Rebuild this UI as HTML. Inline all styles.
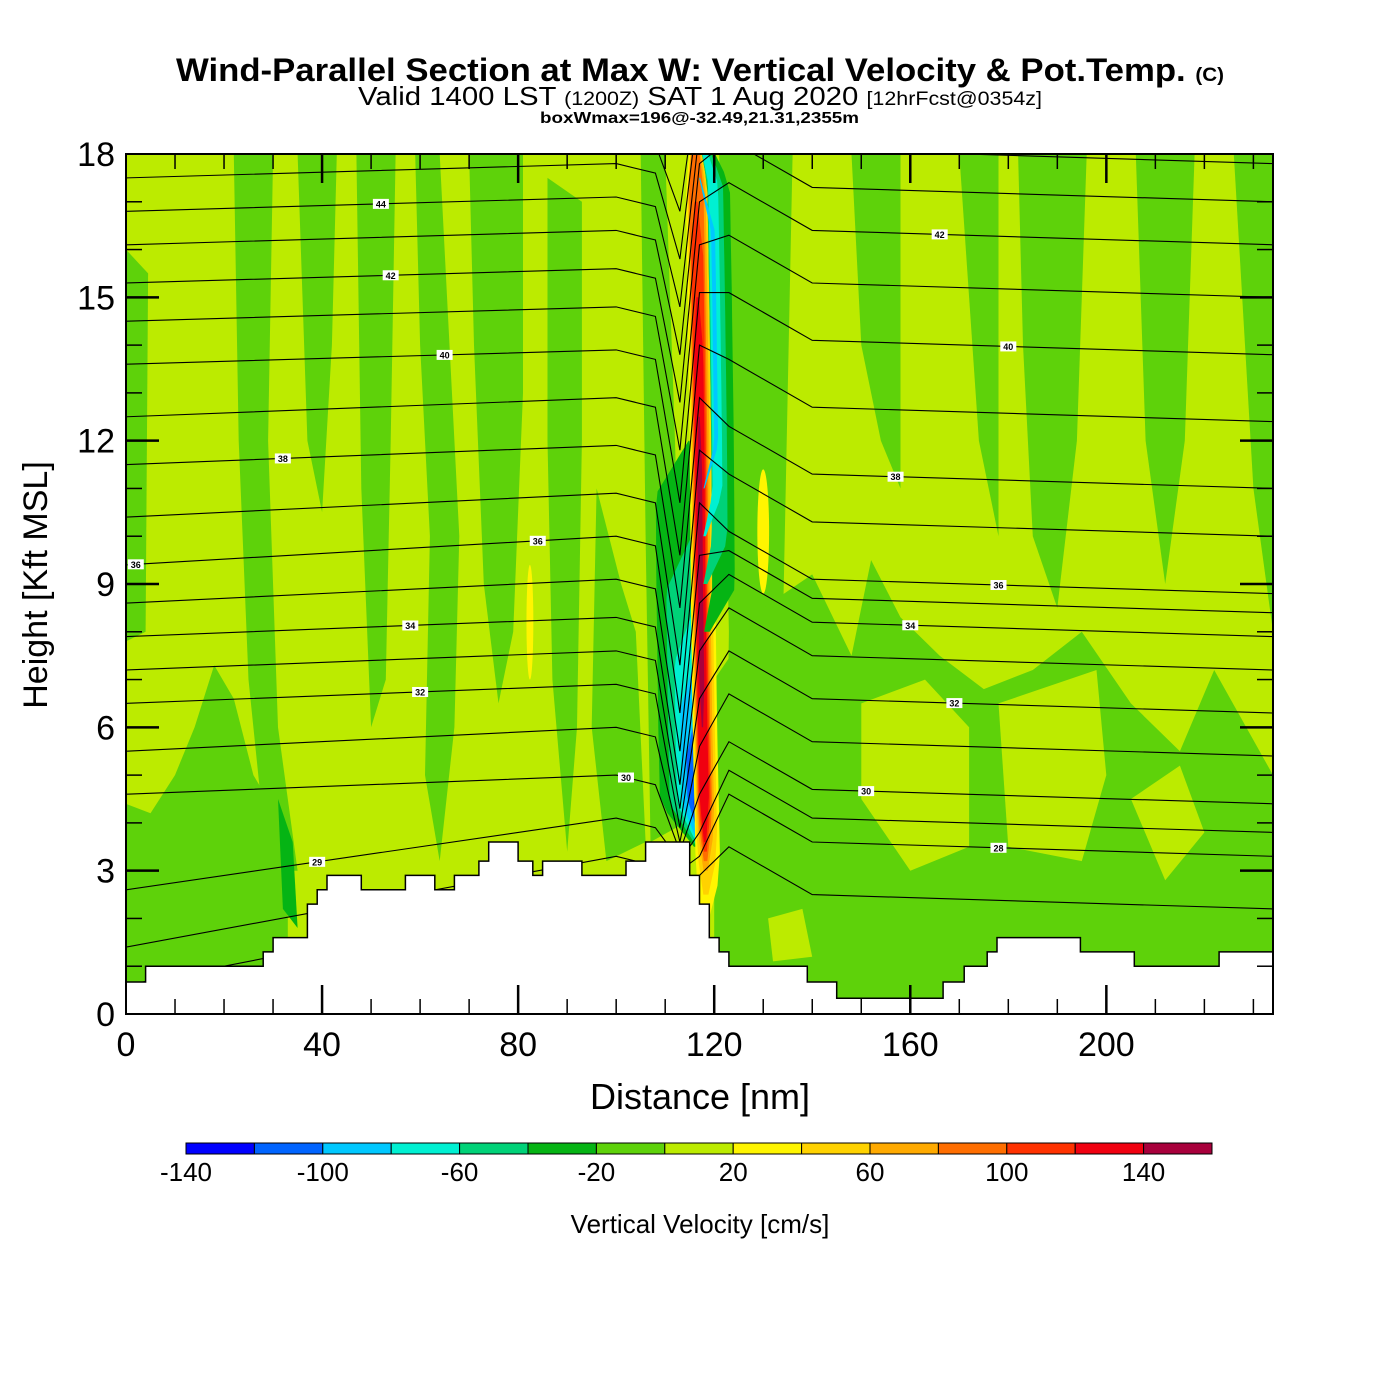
<!DOCTYPE html>
<html><head><meta charset="utf-8"><style>
body{margin:0;background:#fff;}
svg{display:block;font-family:"Liberation Sans",sans-serif;}
</style></head><body>
<svg id="chart" width="1400" height="1400" viewBox="0 0 1400 1400" xmlns="http://www.w3.org/2000/svg">
<text x="176" y="81" font-size="32" font-weight="bold" textLength="1048" lengthAdjust="spacingAndGlyphs">Wind-Parallel Section at Max W: Vertical Velocity &amp; Pot.Temp. <tspan font-size="19">(C)</tspan></text>
<text x="358" y="105" font-size="26" textLength="684" lengthAdjust="spacingAndGlyphs">Valid 1400 LST <tspan font-size="19">(1200Z)</tspan> SAT 1 Aug 2020 <tspan font-size="19">[12hrFcst@0354z]</tspan></text>
<text x="540" y="123" font-size="16" font-weight="bold" textLength="319" lengthAdjust="spacingAndGlyphs">boxWmax=196@-32.49,21.31,2355m</text>
<defs><clipPath id="plotclip"><rect x="126" y="154" width="1147" height="860"/></clipPath></defs>
<g id="plot" clip-path="url(#plotclip)"></g>
<g id="axes"></g>
<text x="700" y="1109" text-anchor="middle" font-size="36">Distance [nm]</text>
<text transform="translate(47,585) rotate(-90)" text-anchor="middle" font-size="34">Height [Kft MSL]</text>
<g id="cbar"></g>
<text x="700" y="1233" text-anchor="middle" font-size="26">Vertical Velocity [cm/s]</text>
</svg>
<script>
// ---- data ----
const terrX=[0,4,28,30,37,39,41,48,57,63,67,72,74,80,83,85,93,102,106,115,117,119,121,123,139,145,166.7,171,175.7,177.7,194.7,205.7,223];
const terrH=[0.67,1.0,1.3,1.6,2.3,2.6,2.9,2.6,2.9,2.6,2.9,3.2,3.6,3.2,2.9,3.2,2.9,3.2,3.6,2.9,2.3,1.6,1.3,1.0,0.67,0.33,0.67,1.0,1.3,1.6,1.3,1.0,1.3];
const levels=[27,28,29,30,31,32,33,34,35,36,37,38,39,40,41,42,43,44,45,46];
const hLeft=[0.6,1.4,2.6,4.6,5.5,6.5,7.2,7.9,8.6,9.4,10.4,11.5,12.5,13.6,14.5,15.3,16.1,16.8,17.5,18.1];
const hMid=[2.6,3.3,4.1,5.0,6.0,6.9,7.6,8.3,9.1,10.0,10.9,11.9,12.9,13.9,14.8,15.6,16.4,17.1,17.8,18.4];
const hDip=[2.8,3.0,3.2,3.4,3.6,3.9,4.3,4.8,5.5,6.3,7.3,8.5,9.6,10.7,11.8,12.8,13.8,14.8,15.8,16.8];
const hCore=[2.9,3.3,3.8,4.6,5.6,6.6,7.6,8.6,9.6,10.7,11.8,12.9,14.0,15.1,16.1,17.0,17.8,18.5,19.2,19.8];
const hRight=[2.2,3.3,3.8,4.4,5.4,6.3,7.2,7.9,8.4,8.8,10.0,11.0,12.4,13.8,15.0,16.1,17.0,17.8,18.5,19.2];
const labelLevels=[44,42,40,38,36,36,34,32,30,29,42,40,38,36,34,32,30,28];
const labelDist=[52,54,65,32,2,84,58,60,102,39,166,180,157,178,160,169,151,178];
const coreH=[3.2,6,9,12,15,18.5];
const coreX=[118.2,117.6,117.2,117.0,116.6,116.0];
const cbColors=["#0000ff","#0064ff","#00c8ff","#00f0d2","#00d278","#05b414","#5ed20a","#bceb00","#fff500","#ffd200","#ffaa00","#ff6e00","#ff3200","#f00010","#a8003c"];
const cbTicks=[-140,-100,-60,-20,20,60,100,140];
const xTicks=[0,40,80,120,160,200];
const yTicks=[0,3,6,9,12,15,18];
const greenRegions=[
 [[0,16],[4.5,15.5],[4,8],[0,7.8]],
 [[0,4.4],[5,4.2],[10,5],[14,6],[18,7.3],[22,6.6],[26,5],[30,4.3],[33,3.2],[33,0],[0,0]],
 [[22,18],[30,18],[29,12],[31,6],[35,3],[29,3],[25,7],[23,12]],
 [[35,18],[43,18],[42,14],[40,10.5],[37,12],[36,15]],
 [[47,18],[55,18],[54,12],[53,7],[50,6],[48,11]],
 [[59,18],[64,18],[66,14],[68,10],[67,6],[64,3.2],[61,5],[62,10],[60,14]],
 [[70,18],[81,18],[81,13],[79,8],[76,6.5],[73,9],[71,14]],
 [[86,17.5],[93,17],[93,12],[92,6],[90,3.4],[87,7],[86,12]],
 [[96,11],[101,9],[104,8],[106,3.6],[98,3.2],[95,6]],
 [[105,18],[110,18],[112,12],[114,4],[107,3.6],[106,10]],
 [[121,18],[136,18],[135,13],[134,8],[136,3],[140,0],[122,0],[123,8]],
 [[120,7],[130,8.5],[140,9.2],[148,7.5],[152,9.5],[158,8.3],[166,7.5],[175,6.8],[185,7.2],[195,8],[205,6.5],[215,5.5],[222,7.2],[234,5],[234,0],[120,0]],
 [[148,18],[158,18],[158,11],[154,12],[150,14]],
 [[170,18],[178,18],[178,10],[174,12]],
 [[182,18],[196,18],[194,12],[190,8.5],[185,10],[183,14]],
 [[206,18],[218,18],[216,12],[212,9],[208,12]],
 [[226,18],[234,18],[234,8],[230,11]]
];
const limeRegions=[
 [[150,6.5],[163,7],[172,6],[172,3.5],[160,3],[150,4.5]],
 [[178,6.5],[198,7.2],[200,5],[195,3.2],[180,3.5]],
 [[205,4.5],[215,5.2],[220,3.8],[212,2.8]],
 [[131,2],[138,2.2],[140,1.2],[132,1.1]]
];
const darkRegions=[[[31,4.5],[34,3.6],[35,1.8],[32,2.2]]];
const yellowBlobs=[[130,10.1,1.2,1.3],[82.4,8.2,0.7,1.2]];
// core layers: [color, offsetLeft, offsetRight, hBottom, hTop]
const coreLayers=[
 ["#05b414",-9,-0.5,3.5,12],["#00d278",-7,-0.8,3.5,10],["#00f0d2",-5.5,-1,3.5,8.5],["#00c8ff",-4.5,-1.2,3.5,7.5],["#0064ff",-3.4,-1.4,3.6,6.5],["#0000ff",-2.6,-1.7,3.7,5.3],
 ["#fff500",-2,3.0,2,18.5],["#ffd200",-1.7,2.5,2.5,18.5],["#ffaa00",-1.5,2.0,3,18.5],["#ff6e00",-1.3,1.6,3.2,18.5],["#ff3200",-1.1,1.3,3.4,17],["#f00010",-0.9,1.0,3.6,15],["#a8003c",-0.5,0.5,6,12.5],
 ["#05b414",2.4,7,8,18.5],["#00d278",2.4,5.6,9,18.5],["#00f0d2",2.6,4.6,10,18.5],["#00c8ff",3.0,3.8,11,17.5]
];
// ---- axis functions ----
const NS="http://www.w3.org/2000/svg";
const X0=126,X1=1273,Y0=1014,Y1=154,XMAX=234,YMAX=18;
const px=x=>X0+x*(X1-X0)/XMAX;
const py=h=>Y0-h*(Y0-Y1)/YMAX;
const plot=document.getElementById('plot'),axes=document.getElementById('axes'),cbar=document.getElementById('cbar');
function mk(tag,attrs,parent){const e=document.createElementNS(NS,tag);for(const k in attrs)e.setAttribute(k,attrs[k]);parent.appendChild(e);return e;}
function ptsStr(arr){return arr.map(p=>px(p[0]).toFixed(1)+','+py(p[1]).toFixed(1)).join(' ');}
function coreXat(h){if(h<=coreH[0])return coreX[0];for(let i=1;i<coreH.length;i++){if(h<=coreH[i]){const t=(h-coreH[i-1])/(coreH[i]-coreH[i-1]);return coreX[i-1]+t*(coreX[i]-coreX[i-1]);}}return coreX[coreX.length-1];}

let bg=mk('rect',{x:X0,y:Y1,width:X1-X0,height:Y0-Y1,fill:"#bceb00"},plot);


greenRegions.forEach(r=>{const e=mk('polygon',{points:ptsStr(r),fill:"#5ed20a"},plot);

});
limeRegions.forEach(r=>{const e=mk('polygon',{points:ptsStr(r),fill:"#bceb00"},plot);

});
darkRegions.forEach(r=>{const e=mk('polygon',{points:ptsStr(r),fill:"#05b414"},plot);

});
yellowBlobs.forEach(b=>{const e=mk('ellipse',{cx:px(b[0]),cy:py(b[1]),rx:b[2]*(X1-X0)/XMAX,ry:b[3]*(Y0-Y1)/YMAX,fill:"#fff500"},plot);

});
coreLayers.forEach(L=>{
  const [col,oL,oR,hb,ht]=L;const left=[],right=[];const n=24;
  for(let i=0;i<=n;i++){const h=hb+(ht-hb)*i/n;const c=coreXat(h);
    const taper=Math.min(1,(h-hb)/1.2+0.25,(ht-h)/1.5+0.25);
    left.push([c+oL*taper,h]);right.push([c+oR*taper,h]);}
  const poly=left.concat(right.reverse());
  const e=mk('polygon',{points:ptsStr(poly),fill:col},plot);
  
  
});
const lineXs=[0,100,108,113,117,123,140,234];
function linePts(i){const hs=[hLeft[i],hMid[i],hMid[i]-0.2,hDip[i],hCore[i],hRight[i]+1.3,hRight[i]+0.3,hRight[i]];return lineXs.map((x,k)=>[x,hs[k]]);}
function interp(pts,x){for(let k=1;k<pts.length;k++){if(x<=pts[k][0]){const t=(x-pts[k-1][0])/(pts[k][0]-pts[k-1][0]);return pts[k-1][1]+t*(pts[k][1]-pts[k-1][1]);}}return pts[pts.length-1][1];}
levels.forEach((lv,i)=>{const e=mk('polyline',{points:ptsStr(linePts(i)),fill:"none",stroke:"#000","stroke-width":1.1},plot);

});
labelLevels.forEach((lv,j)=>{const i=levels.indexOf(lv);const x=labelDist[j];const h=interp(linePts(i),x);
  const g=mk('g',{},plot);
  
  
  mk('rect',{x:px(x)-8,y:py(h)-5,width:16,height:10,fill:"#fff"},g);
  const t=mk('text',{x:px(x),y:py(h)+3.5,'text-anchor':'middle','font-size':9,'font-weight':'bold'},g);t.textContent=lv;});
const tp=[[0,0]];terrX.forEach((x,i)=>{const xe=i<terrX.length-1?terrX[i+1]:XMAX;tp.push([x,terrH[i]]);tp.push([xe,terrH[i]]);});tp.push([XMAX,0]);
let terr=mk('polygon',{points:ptsStr(tp),fill:"#fff",stroke:"#000","stroke-width":1.5},plot);


let fr=mk('rect',{x:X0,y:Y1,width:X1-X0,height:Y0-Y1,fill:"none",stroke:"#000","stroke-width":2},axes);


for(let x=10;x<XMAX;x+=10){const major=x%40===0;const len=major?29:15;
  mk('line',{x1:px(x),x2:px(x),y1:Y0,y2:Y0-len,stroke:"#000","stroke-width":major?2.5:1.5},axes);
  mk('line',{x1:px(x),x2:px(x),y1:Y1,y2:Y1+len,stroke:"#000","stroke-width":major?2.5:1.5},axes);}
for(let h=1;h<YMAX;h++){const major=h%3===0;const len=major?33:16;
  mk('line',{x1:X0,x2:X0+len,y1:py(h),y2:py(h),stroke:"#000","stroke-width":major?2.5:1.5},axes);
  mk('line',{x1:X1,x2:X1-len,y1:py(h),y2:py(h),stroke:"#000","stroke-width":major?2.5:1.5},axes);}
xTicks.forEach(v=>{const t=mk('text',{x:px(v),y:1056,'text-anchor':'middle','font-size':34},axes);t.textContent=v;

});
yTicks.forEach(v=>{const t=mk('text',{x:115,y:py(v)+12,'text-anchor':'end','font-size':34},axes);t.textContent=v;

});
const CB0=186,CB1=1212,CBY=1143,CBH=11,VMIN=-140,VMAX=160;
const cx=v=>CB0+(v-VMIN)*(CB1-CB0)/(VMAX-VMIN);
cbColors.forEach((c,i)=>{const v=VMIN+i*20;const e=mk('rect',{x:cx(v),y:CBY,width:cx(v+20)-cx(v),height:CBH,fill:c,stroke:"#000","stroke-width":1},cbar);

});
cbTicks.forEach(v=>{const t=mk('text',{x:cx(v),y:1181,'text-anchor':'middle','font-size':26},cbar);t.textContent=v;

});
</script>
</body></html>
